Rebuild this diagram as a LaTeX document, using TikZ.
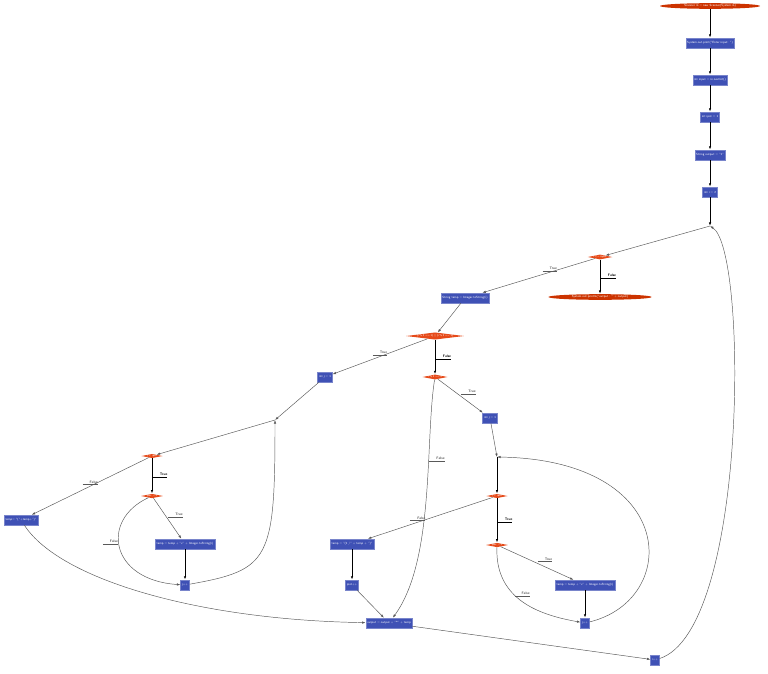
\documentclass[tikz,border=0pt]{standalone}
\usepackage{tikz}
\usetikzlibrary{shapes.geometric,arrows.meta}
\definecolor{boxblue}{HTML}{3F51B5}
\definecolor{decred}{HTML}{E64A19}
\definecolor{termred}{HTML}{CC3300}
\tikzset{
  stmt/.style={fill=boxblue, text=white, font=\sffamily\fontsize{2.6}{3}\selectfont, inner sep=1.2pt, minimum height=0.3cm, draw=boxblue!70!white},
  test/.style={diamond, aspect=5, fill=decred, text=white, font=\sffamily\fontsize{2.3}{2.8}\selectfont, inner sep=0pt},
  term/.style={ellipse, fill=termred, text=white, font=\sffamily\fontsize{2.6}{3}\selectfont, inner sep=0.4pt},
  flow/.style={-{Latex[length=3pt,width=2pt]}, semithick},
  thin flow/.style={-{Latex[length=3pt,width=2pt]}, gray!70!black, thin},
  tag/.style={font=\sffamily\bfseries\fontsize{3}{3.5}\selectfont, inner sep=0.5pt}
}
\newcommand{\tagline}[1]{\underline{\hspace{6pt}#1}}
\begin{document}
\begin{tikzpicture}[x=0.03cm, y=-0.03cm]
    \useasboundingbox (0,0) rectangle (768,673);

    % Main line
    \node[term, minimum width=3cm] (scan) at (710,6) {Scanner in = new Scanner(System.in)};
    \node[stmt] (ask) at (710,43) {System.out.print("Enter input: ")};
    \node[stmt] (read) at (710,80) {int input = in.nextInt()};
    \node[stmt] (ipot) at (710,117) {int ipot = 1};
    \node[stmt] (out) at (710,155) {String output = "1"};
    \node[stmt] (iinit) at (710,192) {int i = 2};
    \coordinate (iloop) at (710,226);

    \node[test] (icond) at (600,257) {i <= input};
    \node[term, minimum width=3.1cm] (print) at (600,297) {System.out.println("output : " + output)};
    \node[stmt] (temp) at (465,298) {String temp = Integer.toString(i)};
    \node[test, aspect=8] (even) at (435,336) {(i \% 2 == 1) || (i \% 3 == 1)};
    \node[test] (three) at (435,377) {i \% 3 == 0};

    % Left branch
    \node[stmt] (jl) at (325,377) {int j = 1};
    \coordinate (jlloop) at (275,420);
    \node[test] (jlcond) at (152,456) {j < ipot};
    \node[test] (plcond) at (152,496) {ipot > 1};
    \node[stmt] (par) at (21,520) {temp= "("+temp+")"};
    \node[stmt] (xl) at (185,544) {temp = temp + "x" + Integer.toString(i)};
    \node[stmt] (jlinc) at (185,585) {j++};

    % Right branch
    \node[stmt] (jr) at (490,418) {int j = 1};
    \coordinate (jrloop) at (497,457);
    \node[test] (jrcond) at (497,496) {j < ipot};
    \node[test] (prcond) at (497,545) {ipot > 1};
    \node[stmt] (frac) at (352,544) {temp = "(1 /" + temp + ")"};
    \node[stmt] (pinc) at (352,585) {ipot++};
    \node[stmt] (xr) at (585,585) {temp = temp + "x" + Integer.toString(i)};
    \node[stmt] (jrinc) at (585,623) {j++};

    \node[stmt] (join) at (389,623) {output = output + "*" + temp};
    \node[stmt] (iinc) at (655,660) {i++};

    % Connectors
    \draw[flow] (scan) -- (ask);
    \draw[flow] (ask) -- (read);
    \draw[flow] (read) -- (ipot);
    \draw[flow] (ipot) -- (out);
    \draw[flow] (out) -- (iinit);
    \draw[flow] (iinit) -- (iloop);
    \draw[thin flow] (iloop) -- (icond);
    \draw[flow] (icond) -- node[tag, right] {\tagline{False}} (print);
    \draw[thin flow] (icond) -- node[tag, above, pos=0.4] {\tagline{True}} (temp);
    \draw[thin flow] (temp) -- (even);
    \draw[thin flow] (even) -- node[tag, above] {\tagline{True}} (jl);
    \draw[flow] (even) -- node[tag, right] {\tagline{False}} (three);
    \draw[thin flow] (three) -- node[tag, above right] {\tagline{True}} (jr);
    \draw[thin flow] (three) .. controls (425,440) and (435,560) .. node[tag, right, pos=0.35] {\tagline{False}} (join);

    \draw[thin flow] (jl) -- (jlloop);
    \draw[thin flow] (jlloop) -- (jlcond);
    \draw[thin flow] (jlcond) -- node[tag, above] {\tagline{False}} (par);
    \draw[flow] (jlcond) -- node[tag, right] {\tagline{True}} (plcond);
    \draw[thin flow] (plcond) -- node[tag, above right] {\tagline{True}} (xl);
    \draw[thin flow] (plcond) .. controls (100,520) and (110,580) .. node[tag, left, pos=0.45] {\tagline{False}} (jlinc);
    \draw[flow] (xl) -- (jlinc);
    \draw[thin flow] (jlinc) .. controls (270,570) and (275,560) .. (jlloop);
    \draw[thin flow] (par) .. controls (60,580) and (200,620) .. (join);

    \draw[thin flow] (jr) -- (jrloop);
    \draw[flow] (jrloop) -- (jrcond);
    \draw[thin flow] (jrcond) -- node[tag, above, pos=0.6] {\tagline{False}} (frac);
    \draw[flow] (jrcond) -- node[tag, right] {\tagline{True}} (prcond);
    \draw[thin flow] (prcond) -- node[tag, above right] {\tagline{True}} (xr);
    \draw[thin flow] (prcond) .. controls (495,600) and (540,615) .. node[tag, right, pos=0.4] {\tagline{False}} (jrinc);
    \draw[flow] (xr) -- (jrinc);
    \draw[thin flow] (jrinc) .. controls (680,600) and (680,460) .. (jrloop);
    \draw[flow] (frac) -- (pinc);
    \draw[thin flow] (pinc) -- (join);
    \draw[thin flow] (join) -- (iinc);
    \draw[thin flow] (iinc) .. controls (748,630) and (748,250) .. (iloop);
\end{tikzpicture}
\end{document}
